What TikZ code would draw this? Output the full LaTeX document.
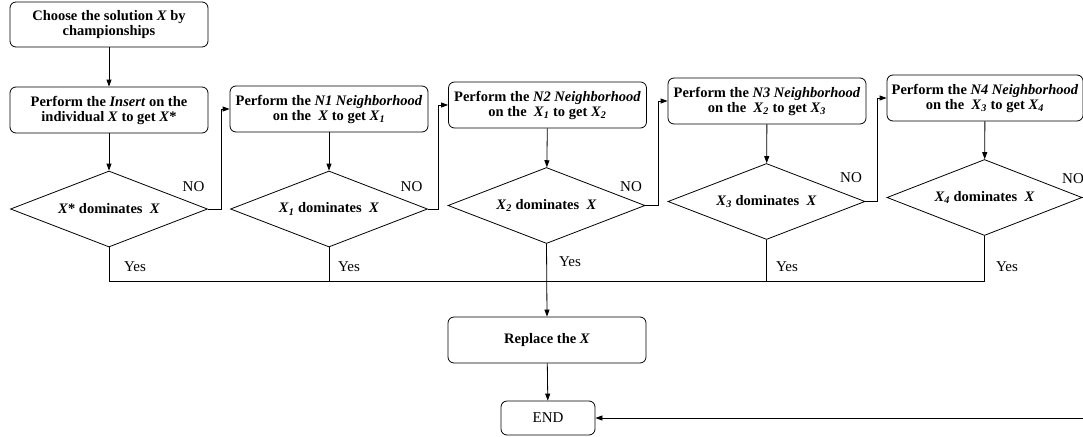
\documentclass[tikz,border=0pt]{standalone}
\usepackage{fontspec}
\setmainfont{Liberation Serif}
\usetikzlibrary{arrows.meta,shapes.geometric}
\tikzset{
  box/.style={draw,rounded corners=6pt,minimum width=198pt,minimum height=46pt,align=center,
    font=\bfseries\fontsize{14.5}{15}\selectfont,inner sep=1pt},
  dec/.style={draw,diamond,aspect=2.6,minimum width=197pt,minimum height=76pt,inner sep=0pt,
    font=\bfseries\fontsize{14.5}{15}\selectfont},
  lab/.style={font=\fontsize{15}{15}\selectfont,inner sep=0pt},
  arr/.style={-{Triangle[length=7pt,width=5pt]}},
}
\newcommand{\myxs}[1]{\textit{X}\textsubscript{\textit{#1}}}
\begin{document}
\begin{tikzpicture}[x=1pt,y=-1pt,line width=0.8pt]
\useasboundingbox (0,0) rectangle (1083,436);
% boxes
\node[box,minimum height=45pt] (B0) at (109,24.5) {Choose the solution \textit{X} by\\championships};
\node[box] (B1) at (109,110) {Perform the \textit{Insert} on the\\individual \textit{X} to get \textit{X}*};
\node[box] (B2) at (329,109) {Perform the \textit{N1 Neighborhood}\\on the~ \textit{X} to get \myxs{1}};
\node[box] (B3) at (547.5,105) {Perform the \textit{N2 Neighborhood}\\on the~ \myxs{1} to get \myxs{2}};
\node[box] (B4) at (767,101) {Perform the \textit{N3 Neighborhood}\\on the~ \myxs{2} to get \myxs{3}};
\node[box,minimum width=196pt] (B5) at (985,98) {Perform the \textit{N4 Neighborhood}\\on the~ \myxs{3} to get \myxs{4}};
% decisions
\node[dec] (D0) at (109,209) {\textit{X}* dominates~ \textit{X}};
\node[dec] (D1) at (329,209) {\myxs{1} dominates~ \textit{X}};
\node[dec] (D2) at (546.5,205.5) {\myxs{2} dominates~ \textit{X}};
\node[dec] (D3) at (766.5,201.5) {\myxs{3} dominates~ \textit{X}};
\node[dec,minimum width=195pt] (D4) at (984.5,197.5) {\myxs{4} dominates~ \textit{X}};
% bottom
\node[box] (R) at (547,340) {Replace the \textit{X}};
\node[draw,rounded corners=6pt,minimum width=94pt,minimum height=34pt,font=\fontsize{15}{15}\selectfont,inner sep=1pt] (E) at (548,418) {END};
\coordinate (bus) at (0,281.5);
% vertical flow
\draw[arr] (B0) -- (B1);
\draw[arr] (B1) -- (D0);
\draw[arr] (B2) -- (D1);
\draw[arr] (B3) -- (D2);
\draw[arr] (B4) -- (D3);
\draw[arr] (B5) -- (D4);
% NO branches
\draw[arr] (D0.east) -- ++(13,0) |- (B2.west);
\draw[arr] (D1.east) -- ++(10,0) |- (B3.west);
\draw[arr] (D2.east) -- ++(13,0) |- (B4.west);
\draw[arr] (D3.east) -- ++(12,0) |- (B5.west);
\draw[arr] (D4.east) -- ++(14,0) |- (E.east);
% Yes bus
\draw (D0.south) -- (D0.south |- bus) -- (D4.south |- bus) -- (D4.south);
\draw (D1.south) -- (D1.south |- bus);
\draw (D3.south) -- (D3.south |- bus);
\draw[arr] (D2.south) -- (R.north);
\draw[arr] (R) -- (E);
% labels
\node[lab] (n0) at (193.5,187) {NO};
\node[lab] (n1) at (411.5,187) {NO};
\node[lab] (n2) at (631,187) {NO};
\node[lab] (n3) at (851,178) {NO};
\node[lab] (n4) at (1073,179) {NO};
\node[lab] (y0) at (135,267) {Yes};
\node[lab] (y1) at (349,267) {Yes};
\node[lab] (y2) at (570,262) {Yes};
\node[lab] (y3) at (787,267) {Yes};
\node[lab] (y4) at (1007,267) {Yes};
\end{tikzpicture}
\end{document}
